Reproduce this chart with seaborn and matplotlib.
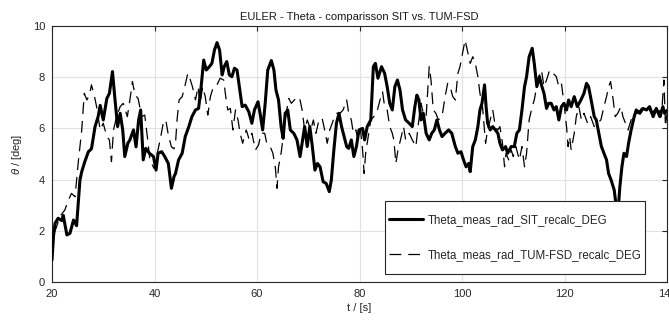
import matplotlib
matplotlib.use("Agg")
import matplotlib.pyplot as plt
import seaborn as sns
import pandas as pd
from matplotlib.patches import Rectangle

# ---------------- data ----------------
t_sit = [20.0, 20.3, 20.6, 21.2, 21.9, 22.2, 22.9, 23.5, 24.2, 24.8, 25.45, 25.8, 26.4, 27.1, 27.7,
         28.4, 29.0, 29.4, 30.0, 30.7, 31.2, 31.8, 32.3, 32.8, 33.3, 33.8, 34.2, 34.8, 35.2, 35.9,
         36.4, 36.9, 37.3, 37.8, 38.3, 39.0, 39.8, 40.3, 40.7, 41.4, 42.0, 42.7, 43.3, 43.8, 44.1,
         44.7, 45.4, 46.0, 46.7, 47.3, 48.0, 48.6, 49.1, 49.6, 50.1, 50.7, 51.2, 51.7, 52.2, 52.7,
         53.2, 53.6, 54.1, 54.6, 55.1, 55.6, 56.1, 56.6, 57.1, 57.7, 58.4, 59.0, 59.5, 60.2, 60.6,
         61.1, 61.6, 62.1, 62.8, 63.3, 63.7, 64.2, 64.7, 65.1, 65.5, 66.0, 66.5, 67.2, 67.8, 68.4,
         68.9, 69.3, 69.8, 70.3, 70.8, 71.3, 71.8, 72.3, 72.9, 73.5, 74.1, 74.5, 75.0, 75.5, 76.0,
         76.5, 77.0, 77.5, 77.9, 78.4, 78.9, 79.4, 79.9, 80.6, 81.0, 81.5, 82.2, 82.7, 83.1, 83.6,
         84.3, 84.9, 85.4, 85.9, 86.4, 86.9, 87.4, 87.9, 88.4, 89.0, 89.7, 90.3, 90.8, 91.2, 91.6,
         92.0, 92.45, 93.0, 93.6, 94.1, 94.6, 95.1, 95.6, 96.1, 96.7, 97.4, 98.0, 98.7, 99.2, 99.8,
         100.3, 100.8, 101.3, 101.6, 102.1, 102.6, 103.1, 103.5, 103.9, 104.4, 104.7, 105.0, 105.5,
         106.0, 106.5, 107.0, 107.4, 107.9, 108.5, 108.9, 109.6, 110.2, 110.7, 111.2, 111.7, 112.2,
         112.6, 113.1, 113.7, 114.1, 114.6, 115.1, 115.6, 116.0, 116.5, 116.9, 117.4, 117.95, 118.4,
         118.9, 119.4, 119.9, 120.4, 120.8, 121.3, 121.9, 122.5, 123.2, 123.8, 124.3, 124.7, 125.2,
         125.8, 126.2, 126.7, 127.2, 127.7, 128.2, 128.6, 129.1, 129.7, 130.1, 130.4, 130.8, 131.2,
         131.6, 132.1, 132.5, 133.0, 133.6, 134.0, 134.7, 135.3, 136.0, 136.6, 137.3, 137.9, 138.6,
         139.2, 139.5, 140.0]
theta_sit = [0.86, 1.8, 2.3, 2.49, 2.4, 2.6, 1.84, 1.9, 2.42, 2.2, 3.98, 4.31, 4.7, 5.09, 5.2,
             6.07, 6.46, 6.9, 6.33, 7.17, 7.37, 8.22, 7.11, 6.07, 6.59, 5.94, 4.9, 5.42, 5.55, 5.94,
             5.28, 6.33, 6.72, 4.77, 5.22, 5.03, 4.9, 4.37, 5.03, 5.09, 4.9, 4.63, 3.66, 4.11, 4.24,
             4.77, 5.03, 5.68, 6.07, 6.46, 6.72, 6.78, 7.63, 8.67, 8.28, 8.41, 8.54, 9.06, 9.35, 9.06,
             8.09, 8.41, 8.61, 8.09, 8.02, 8.35, 8.28, 7.56, 6.85, 6.91, 6.65, 6.2, 6.72, 7.04, 6.59,
             5.94, 6.98, 8.28, 8.65, 8.28, 7.5, 7.11, 6.07, 5.61, 6.59, 6.72, 5.94, 5.8, 5.55, 4.9,
             5.55, 6.07, 5.29, 6.07, 5.29, 4.37, 4.63, 4.5, 3.92, 3.85, 3.53, 3.98, 5.16, 6.2, 6.59,
             6.07, 5.68, 5.29, 5.22, 5.55, 4.9, 5.29, 5.94, 6.0, 5.55, 6.07, 6.33, 8.41, 8.54, 7.96,
             8.41, 8.15, 7.63, 6.98, 6.72, 7.63, 7.89, 7.5, 6.72, 6.33, 6.2, 6.07, 6.85, 7.3, 7.11,
             6.33, 6.59, 5.81, 5.55, 5.81, 5.94, 6.33, 5.94, 5.68, 5.81, 5.94, 5.81, 5.29, 5.03, 5.09,
             4.77, 4.5, 4.63, 4.31, 5.29, 5.55, 6.07, 6.72, 6.98, 7.7, 6.85, 6.2, 5.94,
             6.07, 5.94, 5.81, 5.42, 5.16, 5.29, 5.03, 5.29, 5.29, 5.81, 5.94, 6.72, 7.63,
             8.02, 8.8, 9.13, 8.54, 7.63, 8.02, 7.63, 7.37, 6.78, 6.98, 6.98, 6.72, 6.85,
             6.33, 6.85, 6.98, 6.72, 7.11, 6.85, 7.24, 6.85, 7.11, 7.37, 7.76, 7.63, 7.11,
             6.46, 6.33, 5.81, 5.29, 5.03, 4.77, 4.24, 3.98, 3.59, 2.94, 2.6, 3.72, 4.5,
             5.03, 4.9, 5.42, 5.94, 6.46, 6.72, 6.59, 6.78, 6.72, 6.85, 6.46, 6.78, 6.46,
             6.85, 6.59, 6.7]

t_tum = [20.0, 20.4, 20.9, 21.5, 22.5, 23.2, 23.8, 24.5, 25.1, 25.8, 26.3, 26.8, 27.3, 27.7, 28.3,
         28.7, 29.4, 30.0, 30.7, 31.2, 31.6, 32.0, 32.6, 33.3, 33.9, 34.7, 35.2, 35.7, 36.2, 36.8,
         37.5, 38.1, 38.6, 39.1, 39.9, 40.4, 41.1, 41.7, 42.2, 42.7, 43.3, 43.8, 44.1, 44.4, 44.8,
         45.4, 45.9, 46.5, 47.0, 47.4, 48.0, 48.5, 48.9, 49.4, 49.9, 50.4, 50.9, 51.5, 52.2, 52.8,
         53.5, 53.9, 54.3, 54.8, 55.3, 55.8, 56.3, 56.7, 57.2, 57.9, 58.5, 59.0, 59.7, 60.3, 60.8,
         61.5, 61.9, 62.6, 63.1, 63.6, 63.9, 64.2, 64.7, 65.2, 65.7, 66.2, 66.7, 67.3, 67.9, 68.4,
         68.8, 69.3, 69.8, 70.5, 71.0, 71.5, 72.1, 72.7, 73.2, 73.7, 74.2, 74.9, 75.5, 76.2, 76.8,
         77.5, 77.9, 78.4, 78.8, 79.3, 79.7, 80.2, 80.6, 80.9, 81.2, 81.7, 82.2, 82.8, 83.5, 84.0,
         84.5, 84.9, 85.4, 85.9, 86.4, 86.7, 87.1, 87.5, 88.0, 88.6, 89.0, 89.7, 90.3, 91.0, 91.5,
         92.0, 92.45, 93.0, 93.6, 93.95, 94.4, 94.9, 95.4, 96.1, 96.7, 97.2, 97.7, 98.2, 98.7, 99.2,
         99.6, 100.1, 100.6, 101.1, 101.6, 102.1, 102.6, 103.1, 103.5, 104.0, 104.6, 105.0, 105.5,
         106.0, 106.5, 107.0, 107.4, 107.9, 108.3, 108.6, 109.1, 109.6, 110.0, 110.5, 111.2, 111.7,
         112.2, 112.6, 113.1, 113.7, 114.1, 114.8, 115.5, 116.0, 116.5, 117.1, 117.8, 118.4, 118.9,
         119.4, 119.9, 120.4, 120.7, 121.0, 121.3, 121.9, 122.3, 122.8, 123.3, 123.8, 124.5, 125.1,
         125.8, 126.4, 127.1, 127.7, 128.2, 128.6, 129.0, 129.5, 129.9, 130.4, 131.0, 131.4, 131.9,
         132.4, 133.0, 133.7, 134.3, 135.0, 135.6, 136.3, 136.9, 137.6, 138.2, 138.9, 139.4, 139.7,
         140.0]
theta_tum = [1.2, 1.9, 2.16, 2.55, 2.81, 3.2, 3.46, 3.33, 4.63, 5.94, 7.37, 7.11, 7.3, 7.7, 7.24,
             6.85, 5.94, 6.2, 5.68, 5.55, 4.7, 5.94, 6.46, 6.85, 6.98, 6.46, 7.11, 7.83, 7.3, 7.17,
             6.46, 6.52, 5.68, 4.77, 4.44, 4.9, 5.55, 6.2, 6.33, 5.74, 5.28, 5.2, 5.42, 6.33, 7.11,
             7.24, 7.63, 8.15, 7.89, 7.63, 7.11, 7.63, 6.98, 7.63, 7.24, 6.52, 7.24, 7.63, 7.7, 7.96,
             7.89, 7.24, 6.72, 6.78, 5.94, 6.72, 6.33, 5.81, 5.42, 5.94, 5.55, 5.81, 5.16, 5.35, 5.81,
             5.81, 5.42, 5.28, 5.03, 4.44, 3.66, 4.5, 5.03, 5.81, 6.59, 7.17, 6.98, 7.11, 7.24, 7.11,
             6.72, 5.94, 6.33, 5.94, 6.33, 5.81, 6.33, 6.4, 5.94, 5.42, 5.94, 6.33, 6.59, 6.59, 6.72,
             7.11, 6.59, 6.33, 5.81, 5.94, 5.55, 5.94, 5.16, 4.24, 5.03, 5.68, 6.33, 6.46, 6.72, 7.11,
             7.43, 6.85, 6.72, 6.07, 5.81, 5.55, 4.63, 5.16, 5.55, 6.07, 5.55, 5.81, 5.55, 5.29, 6.2,
             6.98, 6.59, 6.46, 8.41, 7.89, 6.72, 6.59, 6.33, 6.46, 7.24, 7.76, 7.63, 7.24, 7.11, 8.15,
             8.41, 8.93, 9.45, 9.0, 8.54, 8.8, 8.54, 8.02, 7.37, 6.85, 5.42, 5.94, 6.33,
             6.72, 6.07, 5.94, 6.07, 5.42, 4.5, 5.03, 4.77, 5.16, 4.9, 5.29, 4.77, 5.29,
             4.5, 5.03, 6.33, 6.85, 7.11, 7.89, 8.28, 7.63, 7.89, 8.28, 8.15, 8.02, 7.63,
             7.76, 6.98, 6.07, 5.29, 5.68, 5.16, 5.81, 6.46, 6.85, 6.33, 6.59, 6.2, 6.46,
             6.07, 6.2, 6.33, 6.85, 7.24, 7.63, 7.83, 7.11, 6.46, 6.59, 6.85, 6.46, 6.2,
             5.94, 6.33, 6.59, 6.59, 6.78, 6.72, 6.85, 6.59, 6.72, 6.85, 6.46, 7.89, 6.07,
             6.6]

label_sit = "Theta_meas_rad_SIT_recalc_DEG"
label_tum = "Theta_meas_rad_TUM-FSD_recalc_DEG"
title_text = "EULER - Theta - comparisson SIT vs. TUM-FSD"
x_label = "t / [s]"
y_label = r"$\theta$ / [deg]"
x_ticks = [20, 40, 60, 80, 100, 120, 140]
y_ticks = [0, 2, 4, 6, 8, 10]

# ---------------- style ----------------
sns.set_theme(style="white")
plt.rcParams['font.family'] = ['Liberation Sans', 'DejaVu Sans']
plt.rcParams['mathtext.fontset'] = 'custom'
plt.rcParams['mathtext.it'] = 'Liberation Sans:italic'
plt.rcParams['lines.scale_dashes'] = False
txt = '#262626'

fig = plt.figure(figsize=(6.69, 3.21), dpi=100)
W, H = 669, 321
ax = fig.add_axes([52 / W, 1 - 282 / H, 615 / W, 256 / H])

df_sit = pd.DataFrame({'t': t_sit, 'theta': theta_sit})
df_tum = pd.DataFrame({'t': t_tum, 'theta': theta_tum})

sns.lineplot(data=df_sit, x='t', y='theta', ax=ax, color='black', linewidth=2.2,
             estimator=None, sort=False, label=label_sit, zorder=3)
sns.lineplot(data=df_tum, x='t', y='theta', ax=ax, color='black', linewidth=0.9,
             linestyle=(0, (8.5, 5.0)), estimator=None, sort=False, label=label_tum, zorder=2)

ax.set_xlim(20, 140)
ax.set_ylim(0, 10)
ax.set_xticks(x_ticks)
ax.set_yticks(y_ticks)
ax.grid(True, color='#e1e1e1', linewidth=0.8)
ax.set_axisbelow(True)
for s in ax.spines.values():
    s.set_color(txt)
    s.set_linewidth(0.8)
ax.tick_params(direction='in', length=3.5, width=0.8, top=True, right=True,
               colors=txt, labelsize=8, pad=5)
ax.set_xlabel(x_label, fontsize=8, color=txt, labelpad=3)
ax.set_ylabel(y_label, fontsize=8, color=txt, labelpad=6)
ax.set_title(title_text, fontsize=8, color='#1a1a1a', pad=4.5)

# legend box
handles, labels = ax.get_legend_handles_labels()
ax.legend_.remove() if ax.legend_ else None
box = Rectangle((333 / 615, 8 / 256), 260 / 615, 73 / 256, transform=ax.transAxes,
                facecolor='white', edgecolor=txt, linewidth=0.8, zorder=4.5)
ax.add_patch(box)
leg = ax.legend(handles, labels, loc='center', bbox_to_anchor=(463 / 615, 44.5 / 256),
                frameon=False, fontsize=8.3, handlelength=3.0, handletextpad=0.4,
                labelspacing=2.0, borderpad=0.2, labelcolor=txt)
leg.set_zorder(5)

fig.savefig('out.png', dpi=100)
